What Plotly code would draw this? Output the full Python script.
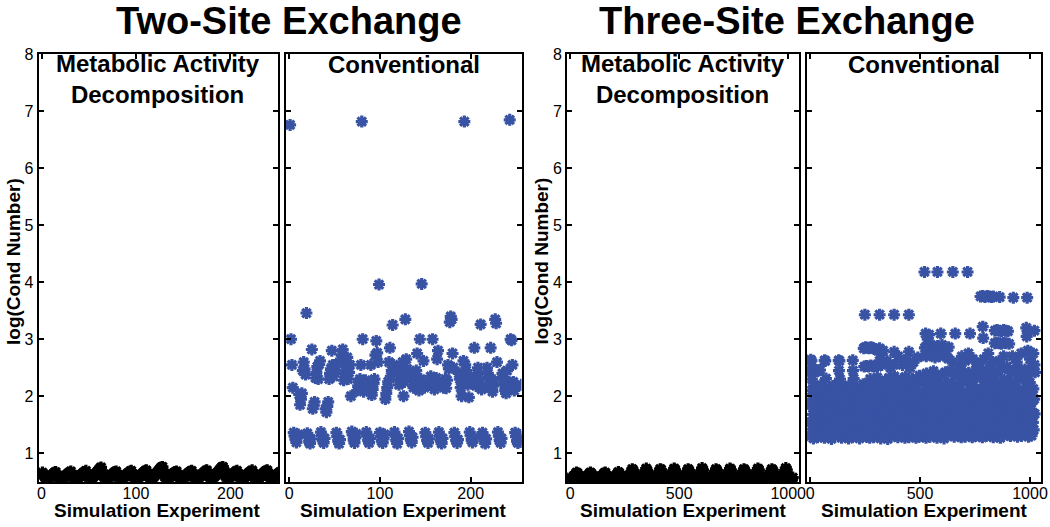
import plotly.graph_objects as go

# ---------------- data ----------------
# Two-site exchange, metabolic activity decomposition: log(cond number) per experiment 1..256 (rows of 16)
mad2_rows = [
    [0.66,0.63,0.60,0.57,0.55,0.54,0.55,0.57,0.58,0.60,0.61,0.63,0.64,0.66,0.67,0.62],
    [0.60,0.57,0.55,0.53,0.53,0.55,0.56,0.58,0.59,0.61,0.62,0.64,0.65,0.66,0.68,0.63],
    [0.59,0.56,0.54,0.52,0.54,0.55,0.57,0.59,0.60,0.62,0.63,0.65,0.66,0.67,0.69,0.64],
    [0.60,0.57,0.55,0.53,0.55,0.57,0.59,0.61,0.63,0.65,0.67,0.69,0.71,0.73,0.75,0.69],
    [0.63,0.59,0.56,0.54,0.53,0.55,0.57,0.58,0.60,0.61,0.63,0.64,0.66,0.67,0.68,0.63],
    [0.59,0.56,0.54,0.53,0.54,0.56,0.57,0.59,0.60,0.62,0.64,0.65,0.66,0.68,0.69,0.64],
    [0.60,0.57,0.55,0.53,0.54,0.56,0.58,0.59,0.61,0.63,0.64,0.66,0.67,0.69,0.70,0.65],
    [0.61,0.58,0.55,0.54,0.55,0.57,0.59,0.61,0.63,0.65,0.67,0.69,0.71,0.73,0.75,0.76],
    [0.70,0.64,0.58,0.55,0.54,0.55,0.57,0.58,0.60,0.62,0.63,0.65,0.66,0.67,0.68,0.63],
    [0.60,0.57,0.54,0.53,0.54,0.56,0.57,0.59,0.61,0.62,0.64,0.65,0.67,0.68,0.69,0.64],
    [0.59,0.56,0.54,0.53,0.55,0.56,0.58,0.60,0.61,0.63,0.64,0.66,0.67,0.69,0.70,0.65],
    [0.61,0.58,0.55,0.54,0.55,0.57,0.59,0.61,0.63,0.65,0.67,0.69,0.71,0.73,0.75,0.76],
    [0.72,0.66,0.60,0.56,0.54,0.55,0.57,0.59,0.60,0.62,0.63,0.65,0.66,0.68,0.69,0.64],
    [0.60,0.57,0.54,0.53,0.54,0.56,0.58,0.59,0.61,0.63,0.64,0.66,0.67,0.68,0.70,0.65],
    [0.59,0.56,0.54,0.53,0.55,0.56,0.58,0.60,0.61,0.63,0.65,0.66,0.68,0.69,0.70,0.65],
    [0.60,0.57,0.55,0.53,0.54,0.56,0.58,0.60,0.61,0.63,0.64,0.66,0.67,0.68,0.69,0.64],
]

# Two-site exchange, conventional: experiments 1..256 (rows of 16)
conv2_rows = [
    [6.76,3.00,2.55,2.15,1.36,1.30,1.24,1.19,1.27,1.33,2.03,1.85,1.95,2.05,2.45,2.60],
    [2.48,2.38,3.46,1.35,1.28,1.20,1.17,1.25,2.82,1.78,1.84,1.90,2.32,2.42,2.52,2.30],
    [2.56,2.62,1.37,1.31,1.22,1.18,1.26,1.78,1.72,1.82,1.90,2.30,2.40,2.48,2.80,2.55],
    [2.35,2.45,2.55,1.36,1.29,1.21,1.17,1.24,2.65,2.72,2.82,2.28,2.40,2.52,2.60,2.68],
    [2.30,2.42,2.55,2.00,1.38,1.32,1.23,1.18,1.27,1.34,2.10,2.18,2.25,2.30,2.55,6.82],
    [3.00,2.08,2.18,2.28,1.37,1.30,1.22,1.18,1.26,2.55,2.02,2.12,2.22,2.30,2.72,2.97],
    [2.76,2.60,3.96,1.36,1.29,1.21,1.18,1.25,1.33,1.95,2.05,2.15,2.25,2.60,2.85,2.35],
    [2.45,3.25,2.55,1.37,1.30,1.22,1.17,1.26,2.20,2.30,2.42,2.52,2.60,2.00,2.25,3.35],
    [2.65,2.48,2.35,1.38,1.31,1.23,1.19,1.28,2.15,2.25,2.35,2.45,2.75,2.20,2.10,3.00],
    [2.30,3.97,2.22,2.62,2.15,1.36,1.29,1.22,1.18,1.25,2.25,2.35,2.18,3.00,2.28,2.12],
    [2.20,2.32,2.65,2.80,1.37,1.30,1.21,1.17,1.26,2.15,2.22,2.30,2.14,2.28,2.55,2.48],
    [3.30,3.40,3.35,2.75,2.50,1.36,1.29,1.22,1.18,1.24,2.40,2.30,2.15,2.00,2.22,2.62],
    [6.82,2.55,2.45,2.35,2.20,1.98,1.37,1.31,1.23,1.19,1.27,2.85,2.28,2.18,2.40,2.50],
    [2.32,2.22,3.26,2.12,1.36,1.30,1.22,1.17,1.25,2.50,2.40,2.30,2.15,2.85,2.25,2.08],
    [2.18,2.28,3.35,3.28,2.60,1.37,1.30,1.22,1.18,1.26,2.40,2.30,2.20,2.10,2.05,2.45],
    [2.15,2.25,6.85,3.00,2.98,2.55,2.25,2.10,1.36,1.29,1.21,1.18,1.25,1.32,1.20,2.20],
]

# Three-site exchange, metabolic activity decomposition: experiments 1,5,9,...,1021 (rows of 16)
mad3_rows = [
    [0.57,0.54,0.52,0.55,0.58,0.61,0.63,0.66,0.65,0.62,0.58,0.55,0.52,0.51,0.54,0.58],
    [0.56,0.53,0.51,0.54,0.58,0.62,0.64,0.66,0.64,0.61,0.57,0.54,0.52,0.50,0.53,0.57],
    [0.58,0.55,0.52,0.54,0.57,0.60,0.63,0.65,0.66,0.62,0.59,0.55,0.53,0.51,0.54,0.57],
    [0.57,0.54,0.51,0.53,0.57,0.61,0.64,0.67,0.65,0.61,0.58,0.54,0.52,0.50,0.53,0.58],
    [0.58,0.55,0.52,0.55,0.59,0.63,0.68,0.72,0.70,0.65,0.60,0.56,0.53,0.51,0.54,0.58],
    [0.57,0.54,0.51,0.54,0.59,0.64,0.69,0.73,0.70,0.64,0.59,0.55,0.52,0.50,0.53,0.57],
    [0.58,0.55,0.52,0.54,0.58,0.63,0.68,0.72,0.71,0.66,0.60,0.56,0.53,0.51,0.54,0.58],
    [0.57,0.54,0.52,0.55,0.59,0.64,0.69,0.73,0.71,0.65,0.60,0.55,0.52,0.50,0.53,0.57],
    [0.58,0.55,0.51,0.54,0.58,0.63,0.68,0.72,0.70,0.65,0.59,0.56,0.53,0.51,0.54,0.58],
    [0.57,0.54,0.52,0.55,0.59,0.64,0.69,0.74,0.71,0.64,0.59,0.55,0.52,0.50,0.53,0.57],
    [0.58,0.55,0.52,0.54,0.58,0.63,0.68,0.72,0.70,0.66,0.60,0.56,0.53,0.51,0.54,0.58],
    [0.57,0.54,0.51,0.54,0.59,0.64,0.69,0.73,0.71,0.65,0.60,0.55,0.52,0.50,0.53,0.57],
    [0.58,0.55,0.52,0.55,0.59,0.63,0.68,0.72,0.70,0.65,0.59,0.56,0.53,0.51,0.54,0.58],
    [0.57,0.54,0.52,0.54,0.58,0.64,0.69,0.73,0.71,0.64,0.59,0.55,0.52,0.50,0.53,0.57],
    [0.58,0.55,0.51,0.55,0.59,0.63,0.68,0.72,0.70,0.66,0.60,0.56,0.53,0.51,0.54,0.58],
    [0.57,0.54,0.52,0.54,0.59,0.64,0.69,0.74,0.71,0.65,0.60,0.55,0.52,0.50,0.53,0.57],
]

# Three-site exchange, conventional: main cloud, experiments 1,3,5,...,1023 (rows of 32)
conv3_rows = [
    [1.30,1.85,1.55,2.10,1.42,1.95,1.68,1.26,2.18,1.75,1.50,2.02,1.36,1.88,1.62,2.12,1.28,1.80,1.58,2.05,1.45,1.92,1.70,1.33,2.20,1.78,1.52,1.98,1.40,1.86,1.65,2.08],
    [1.27,1.90,1.60,2.15,1.38,1.82,1.72,1.30,2.05,1.66,1.47,2.12,1.34,1.95,1.57,2.00,1.25,1.84,1.63,2.18,1.43,1.76,1.69,1.31,2.10,1.88,1.54,1.97,1.37,1.81,1.60,2.22],
    [1.32,1.78,1.52,2.08,1.45,1.98,1.64,1.27,2.14,1.71,1.56,2.04,1.35,1.91,1.59,2.16,1.29,1.83,1.61,2.02,1.41,1.94,1.74,1.26,2.19,1.80,1.49,2.06,1.39,1.87,1.67,2.11],
    [1.28,1.88,1.57,2.12,1.40,1.93,1.70,1.31,2.16,1.77,1.48,2.01,1.33,1.86,1.63,2.09,1.26,1.79,1.55,2.07,1.44,1.90,1.73,1.30,2.21,1.82,1.51,1.99,1.38,1.84,1.66,2.13],
    [1.29,1.90,1.56,2.20,1.43,2.00,1.69,1.27,2.30,1.76,1.51,2.10,1.35,1.95,1.63,2.25,1.28,1.82,1.59,2.15,1.46,1.97,1.72,1.33,2.33,1.80,1.53,2.05,1.41,1.89,1.66,2.22],
    [1.26,1.93,1.61,2.24,1.39,1.86,1.74,1.31,2.12,1.68,1.48,2.28,1.34,2.02,1.58,2.08,1.25,1.87,1.65,2.32,1.44,1.79,1.70,1.30,2.18,1.92,1.55,2.03,1.37,1.84,1.62,2.35],
    [1.31,1.81,1.53,2.14,1.46,2.06,1.65,1.28,2.26,1.73,1.57,2.11,1.36,1.96,1.60,2.29,1.30,1.85,1.62,2.09,1.42,2.00,1.75,1.27,2.34,1.83,1.50,2.17,1.40,1.91,1.68,2.21],
    [1.28,1.89,1.58,2.19,1.41,1.98,1.71,1.32,2.31,1.78,1.49,2.07,1.33,1.92,1.64,2.23,1.27,1.81,1.56,2.13,1.45,1.95,1.73,1.29,2.36,1.85,1.52,2.04,1.39,1.88,1.67,2.27],
    [1.30,1.92,1.57,2.28,1.44,2.05,1.70,1.27,2.40,1.79,1.52,2.15,1.36,1.99,1.64,2.33,1.29,1.86,1.60,2.22,1.47,2.02,1.74,1.34,2.44,1.83,1.55,2.10,1.42,1.94,1.68,2.30],
    [1.27,1.96,1.62,2.32,1.40,1.89,1.76,1.32,2.18,1.70,1.49,2.38,1.35,2.08,1.59,2.13,1.26,1.91,1.67,2.42,1.45,1.82,1.72,1.31,2.24,1.97,1.56,2.07,1.38,1.87,1.63,2.45],
    [1.32,1.84,1.54,2.20,1.47,2.12,1.66,1.29,2.35,1.75,1.58,2.16,1.37,2.01,1.61,2.39,1.31,1.88,1.63,2.14,1.43,2.06,1.77,1.28,2.43,1.86,1.51,2.26,1.41,1.95,1.69,2.29],
    [1.29,1.93,1.59,2.27,1.42,2.04,1.73,1.33,2.41,1.81,1.50,2.11,1.34,1.98,1.65,2.31,1.28,1.84,1.57,2.19,1.46,2.00,1.75,1.30,2.46,1.89,1.53,2.09,1.40,1.92,1.68,2.36],
    [1.31,1.95,1.58,2.33,1.45,2.08,1.71,1.28,2.46,1.82,1.53,2.19,1.37,2.03,1.65,2.40,1.30,1.89,1.61,2.27,1.48,2.06,1.76,1.35,2.50,1.86,1.56,2.14,1.43,1.97,1.69,2.36],
    [1.28,1.99,1.63,2.38,1.41,1.92,1.78,1.33,2.22,1.73,1.50,2.44,1.36,2.11,1.60,2.17,1.27,1.94,1.68,2.48,1.46,1.85,1.74,1.32,2.29,2.00,1.57,2.10,1.39,1.90,1.64,2.52],
    [1.33,1.87,1.55,2.25,1.48,2.15,1.67,1.30,2.41,1.77,1.59,2.21,1.38,2.05,1.62,2.45,1.32,1.91,1.64,2.18,1.44,2.09,1.79,1.29,2.49,1.88,1.52,2.31,1.42,1.98,1.70,2.34],
    [1.30,1.96,1.60,2.32,1.43,2.07,1.75,1.34,2.47,1.84,1.51,2.16,1.35,2.01,1.66,2.37,1.29,1.87,1.58,2.24,1.47,2.03,1.77,1.31,2.51,1.92,1.54,2.13,1.41,1.95,1.69,2.42],
]

# Three-site exchange, conventional: high-condition experiments (experiment number, value)
conv3_hi_x = [3, 6, 66, 69, 130, 133, 194,
              3, 9, 15, 21, 27, 33, 39, 45, 131, 195,
              8, 72, 136, 198,
              249, 316, 382, 449,
              244, 252, 260, 268, 276, 284, 292, 300, 308, 316, 324, 332,
              246, 256, 266, 276, 286, 296, 306, 316, 326,
              382, 449, 350, 365, 400, 420, 440, 455, 380, 470, 490,
              520, 579, 649, 716,
              525, 535, 541, 594, 660, 727,
              522, 530, 540, 550, 560, 570, 580, 590, 600, 610, 620, 630,
              528, 548, 568, 588, 608, 628,
              705, 650, 740, 690, 760, 680, 720,
              775, 785, 795, 805, 815, 825, 833, 862, 924, 987,
              785, 787, 840, 850, 860, 870, 880, 890, 900, 983, 985, 1020,
              840, 850, 860, 870, 880, 890, 905,
              790, 810, 830, 920, 940, 960, 1000, 1015, 1020, 880, 860, 990]
conv3_hi_y = [2.64, 2.62, 2.63, 2.62, 2.63, 2.62, 2.63,
              2.45, 2.46, 2.44, 2.45, 2.46, 2.44, 2.45, 2.46, 2.45, 2.45,
              2.30, 2.31, 2.30, 2.31,
              3.43, 3.43, 3.43, 3.43,
              2.84, 2.86, 2.85, 2.84, 2.86, 2.85, 2.83, 2.82, 2.80, 2.84, 2.78, 2.80,
              2.52, 2.53, 2.52, 2.54, 2.52, 2.53, 2.52, 2.62, 2.55,
              2.78, 2.78, 2.62, 2.50, 2.70, 2.55, 2.65, 2.50, 2.55, 2.60, 2.68,
              4.18, 4.18, 4.18, 4.18,
              3.10, 3.00, 3.08, 3.10, 3.10, 3.10,
              2.85, 2.88, 2.84, 2.90, 2.86, 2.82, 2.88, 2.84, 2.90, 2.85, 2.80, 2.86,
              2.70, 2.72, 2.68, 2.70, 2.72, 2.66,
              2.62, 2.60, 2.65, 2.70, 2.58, 2.55, 2.75,
              3.75, 3.76, 3.74, 3.76, 3.75, 3.74, 3.75, 3.74, 3.73, 3.73,
              3.22, 3.02, 3.15, 3.16, 3.15, 3.14, 3.16, 3.15, 3.14, 3.20, 3.05, 3.15,
              2.93, 2.94, 2.93, 2.92, 2.94, 2.93, 2.92,
              2.65, 2.75, 2.60, 2.70, 2.60, 2.75, 2.65, 2.75, 2.55, 2.70, 2.62, 2.80]

x_ticks_two = [0, 100, 200]
x_ticks_three = [0, 500, 1000]
y_ticks = [1, 2, 3, 4, 5, 6, 7, 8]

# ---------------- build ----------------
mad2_y = [v for row in mad2_rows for v in row]
conv2_y = [v for row in conv2_rows for v in row]
mad3_y = [v for row in mad3_rows for v in row]
conv3_y = [v for row in conv3_rows for v in row]
x_two = list(range(1, len(mad2_y) + 1))
x_mad3 = list(range(1, 1025, 4))[:len(mad3_y)]
x_conv3 = list(range(1, 1024, 2))[:len(conv3_y)]

BLUE = "#3953a4"
BLACK = "#000000"
FONT = "Liberation Sans, Arial, Helvetica, sans-serif"
W, H = 1050, 527


def mk(color):
    return dict(symbol="asterisk-open", size=10, color=color, line=dict(width=3.2, color=color))


fig = go.Figure()
fig.add_trace(go.Scatter(x=x_two, y=mad2_y, mode="markers", marker=mk(BLACK), xaxis="x", yaxis="y"))
fig.add_trace(go.Scatter(x=x_two, y=conv2_y, mode="markers", marker=mk(BLUE), xaxis="x2", yaxis="y2"))
fig.add_trace(go.Scatter(x=x_mad3, y=mad3_y, mode="markers", marker=mk(BLACK), xaxis="x3", yaxis="y3"))
fig.add_trace(go.Scatter(x=x_conv3 + conv3_hi_x, y=conv3_y + conv3_hi_y, mode="markers",
                         marker=mk(BLUE), xaxis="x4", yaxis="y4"))

px_dom = [(37, 278), (286, 524), (570, 804), (812, 1048)]
xranges = [[-3, 250], [-4, 256], [-14, 1050], [-14, 1050]]
xticks = [x_ticks_two, x_ticks_two, x_ticks_three, x_ticks_three]
ydom = [(H - 481) / H, (H - 47) / H]

axis_common = dict(showline=True, linecolor="black", linewidth=2, mirror="ticks", ticks="inside",
                   ticklen=5, tickwidth=1.5, tickcolor="black", showgrid=False, zeroline=False,
                   tickfont=dict(family=FONT, size=16, color="black"))

layout = dict(width=W, height=H, margin=dict(l=0, r=0, t=0, b=0, pad=0), showlegend=False,
              paper_bgcolor="white", plot_bgcolor="white")
for i in range(4):
    s = "" if i == 0 else str(i + 1)
    layout["xaxis" + s] = dict(axis_common, domain=[px_dom[i][0] / W, px_dom[i][1] / W],
                               range=xranges[i], tickvals=xticks[i], anchor="y" + s,
                               ticklabelstandoff=-4)
    layout["yaxis" + s] = dict(axis_common, domain=ydom, range=[0.5, 8], tickvals=y_ticks,
                               anchor="x" + s, showticklabels=(i in (0, 2)))
fig.update_layout(**layout)


def ann(text, xpx, ypx, size, angle=0):
    fig.add_annotation(text=text, x=xpx / W, y=(H - ypx) / H, xref="paper", yref="paper",
                       showarrow=False, xanchor="center", yanchor="middle", textangle=angle,
                       font=dict(family=FONT, size=size, color="black"))


ann("<b>Two-Site Exchange</b>", 289, 13, 38)
ann("<b>Three-Site Exchange</b>", 792, 13, 38)
ann("<b>Metabolic Activity</b><br><b>Decomposition</b>", 157, 72, 24)
ann("<b>Metabolic Activity</b><br><b>Decomposition</b>", 687, 72, 24)
ann("<b>Conventional</b>", 405, 57, 24)
ann("<b>Conventional</b>", 930, 57, 24)
ann("<b>Simulation Experiment</b>", 157, 510, 19)
ann("<b>Simulation Experiment</b>", 405, 510, 19)
ann("<b>Simulation Experiment</b>", 687, 510, 19)
ann("<b>Simulation Experiment</b>", 930, 510, 19)
ann("<b>log(Cond Number)</b>", 11, 257, 19, -90)
ann("<b>log(Cond Number)</b>", 544, 257, 19, -90)

fig.write_html("out.html", config={"displayModeBar": False},
               post_script="document.body.style.margin='0';document.body.style.overflow='hidden';")
